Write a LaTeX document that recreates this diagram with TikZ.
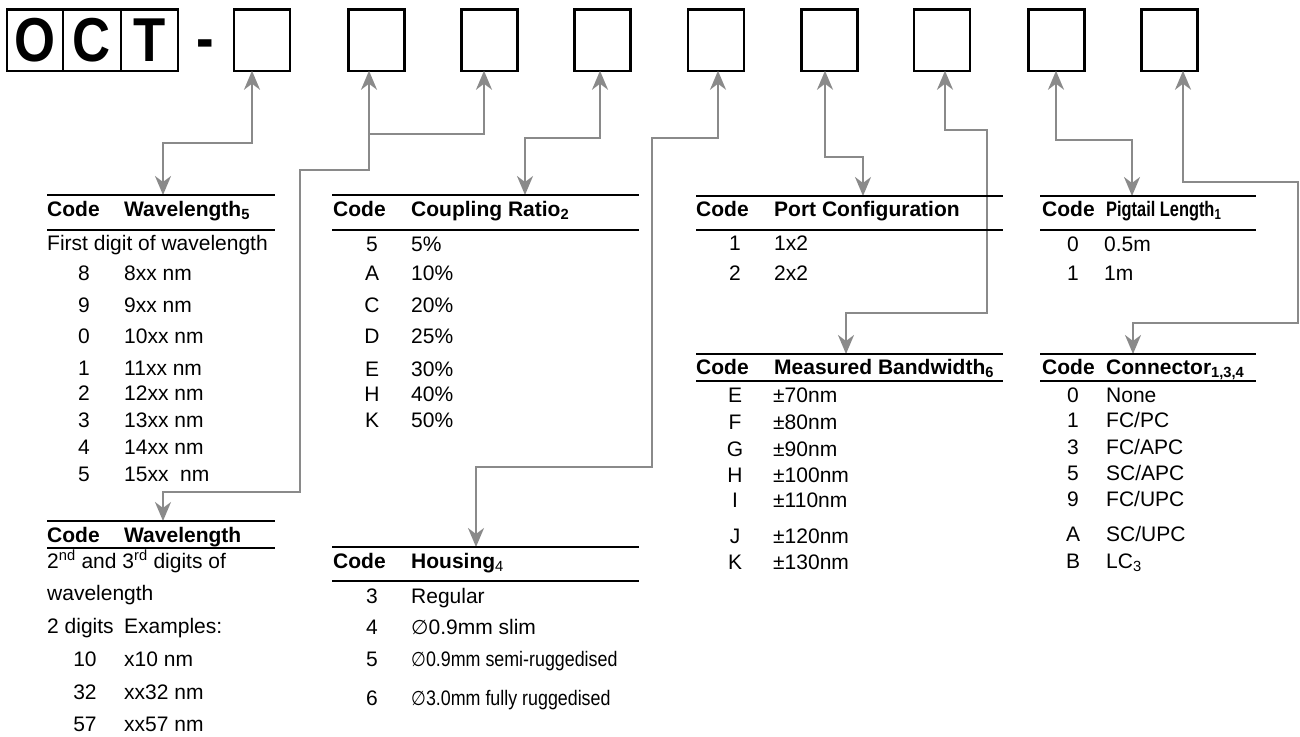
\documentclass[tikz,border=0pt]{standalone}
\usepackage{graphicx}
\usepackage{fontspec}
\setmainfont{Liberation Sans}
\newfontfamily\djv{DejaVu Sans}
\usetikzlibrary{arrows.meta}
\definecolor{conncol}{RGB}{138,138,138}
\tikzset{
  ar/.tip={Stealth[length=19pt,width=16pt,inset=6pt]},
  lbox/.style={draw, line width=2.5pt, minimum height=61.5pt, inner sep=0pt, outer sep=0pt,
     font=\fontsize{62}{64}\selectfont\bfseries},
  cbox/.style={draw, line width=2.5pt, minimum width=56pt, minimum height=61.5pt, inner sep=0pt, outer sep=0pt},
  conn/.style={draw=conncol, line width=2.2pt, line join=miter},
  rule/.style={line width=2.5pt},
  hd/.style={font=\fontsize{21}{24}\selectfont\bfseries, anchor=base west, inner sep=0pt},
  cd/.style={font=\fontsize{21}{24}\selectfont, anchor=base, inner sep=0pt},
  vl/.style={font=\fontsize{21}{24}\selectfont, anchor=base west, inner sep=0pt},
}
\newcommand{\trow}[6]{%
  \node[cd] (#1c) at (#2,#4) {#5};
  \node[vl] (#1v) at (#3,#4) {#6};}
\newcommand{\dia}{{\djv\fontsize{20}{22}\selectfont ∅}}
\begin{document}
\begin{tikzpicture}[x=1pt,y=-1pt]
\useasboundingbox (0,0) rectangle (1300,736);
% ---- top code boxes
\node[lbox, minimum width=56pt] (bo) at (35,40) {\scalebox{0.85}[1]{O}};
\node[lbox, minimum width=58pt] (bc) at (92,40) {\scalebox{0.85}[1]{C}};
\node[lbox, minimum width=57pt] (bt) at (149.5,40) {\scalebox{0.85}[1]{T}};
\node[font=\fontsize{62}{64}\selectfont\bfseries, anchor=base, inner sep=0pt] (dash) at (205,59) {\scalebox{0.85}[1]{-}};
\node[cbox] (b1) at (262,40) {};
\node[cbox] (b2) at (376.5,40) {};
\node[cbox] (b3) at (489.5,40) {};
\node[cbox] (b4) at (602.5,40) {};
\node[cbox] (b5) at (716,40) {};
\node[cbox] (b6) at (829.5,40) {};
\node[cbox] (b7) at (942,40) {};
\node[cbox] (b8) at (1056.5,40) {};
\node[cbox] (b9) at (1169.5,40) {};
% ---- arrow targets on table rules
\coordinate (t1in) at (163,195);
\coordinate (t2in) at (163,521);
\coordinate (t3in) at (525,195);
\coordinate (t4in) at (476,547);
\coordinate (t5in) at (863,196);
\coordinate (t6in) at (846,354);
\coordinate (t7in) at (1132,196);
\coordinate (t8in) at (1133,354);
\coordinate (j23) at (369,134);
% ---- connectors
\draw[conn, ar-ar] ([xshift=-10pt]b1.south) |- (163,143) -- (t1in);
\draw[conn, ar-ar] ([xshift=-7.5pt]b2.south) |- (300,170) |- (163,492) -- (t2in);
\draw[conn, ar-] ([xshift=-5.5pt]b3.south) |- (j23);
\draw[conn, ar-ar] ([xshift=-2.5pt]b4.south) |- (525,138) -- (t3in);
\draw[conn, ar-ar] ([xshift=2pt]b5.south) |- (652,138) |- (476,467) -- (t4in);
\draw[conn, ar-ar] ([xshift=-4.5pt]b6.south) |- (863,157) -- (t5in);
\draw[conn, ar-ar] ([xshift=3pt]b7.south) |- (987,130) |- (846,313) -- (t6in);
\draw[conn, ar-ar] ([xshift=-0.5pt]b8.south) |- (1132,140) -- (t7in);
\draw[conn, ar-ar] ([xshift=13.5pt]b9.south) |- (1298,182) |- (1133,323) -- (t8in);
% ---- rules
\draw[rule] (47,195) -- (275,195);   \draw[rule] (47,230) -- (275,230);
\draw[rule] (47,521) -- (275,521);   \draw[rule] (47,548) -- (275,548);
\draw[rule] (332,195) -- (639,195);  \draw[rule] (332,230) -- (639,230);
\draw[rule] (332,547) -- (639,547);  \draw[rule] (332,581) -- (639,581);
\draw[rule] (696,196) -- (1003,196); \draw[rule] (696,230) -- (1003,230);
\draw[rule] (696,354) -- (1003,354); \draw[rule] (696,381) -- (1003,381);
\draw[rule] (1040,196) -- (1256,196); \draw[rule] (1040,230) -- (1256,230);
\draw[rule] (1040,354) -- (1256,354); \draw[rule] (1040,381) -- (1256,381);
% ---- table 1: wavelength (first digit)
\node[hd] (h1c) at (47,216) {Code};
\node[hd] (h1t) at (124,216) {Wavelength\textsubscript{5}};
\node[vl] (r1a) at (47,250) {First digit of wavelength};
\trow{r1b}{84}{124}{280}{8}{8xx nm}
\trow{r1c}{84}{124}{312}{9}{9xx nm}
\trow{r1d}{84}{124}{343}{0}{10xx nm}
\trow{r1e}{84}{124}{375}{1}{11xx nm}
\trow{r1f}{84}{124}{400}{2}{12xx nm}
\trow{r1g}{84}{124}{427}{3}{13xx nm}
\trow{r1h}{84}{124}{454}{4}{14xx nm}
\trow{r1i}{84}{124}{481}{5}{15xx\ \ nm}
% ---- table 2: wavelength (2nd and 3rd digits)
\node[hd] (h2c) at (47,542) {Code};
\node[hd] (h2t) at (124,542) {Wavelength};
\node[vl] (r2a) at (47,568) {2\textsuperscript{nd} and 3\textsuperscript{rd} digits of};
\node[vl] (r2b) at (47,600) {wavelength};
\node[vl] (r2c) at (47,633) {2 digits};
\node[vl] (r2d) at (124,633) {Examples:};
\trow{r2e}{85}{124}{666}{10}{x10 nm}
\trow{r2f}{85}{124}{699}{32}{xx32 nm}
\trow{r2g}{85}{124}{731}{57}{xx57 nm}
% ---- table 3: coupling ratio
\node[hd] (h3c) at (333,216) {Code};
\node[hd] (h3t) at (411,216) {Coupling Ratio\textsubscript{2}};
\trow{r3a}{372}{411}{251}{5}{5\%}
\trow{r3b}{372}{411}{280}{A}{10\%}
\trow{r3c}{372}{411}{312}{C}{20\%}
\trow{r3d}{372}{411}{343}{D}{25\%}
\trow{r3e}{372}{411}{376}{E}{30\%}
\trow{r3f}{372}{411}{401}{H}{40\%}
\trow{r3g}{372}{411}{427}{K}{50\%}
% ---- table 4: housing
\node[hd] (h4c) at (333,568) {Code};
\node[hd] (h4t) at (411,568) {Housing\textsubscript{\mdseries 4}};
\trow{r4a}{372}{411}{603}{3}{Regular}
\trow{r4b}{372}{411}{634}{4}{\dia0.9mm slim}
\trow{r4c}{372}{411}{666}{5}{\scalebox{0.85}[1]{\dia0.9mm semi-ruggedised}}
\trow{r4d}{372}{411}{705}{6}{\scalebox{0.85}[1]{\dia3.0mm fully ruggedised}}
% ---- table 5: port configuration
\node[hd] (h5c) at (696,216) {Code};
\node[hd] (h5t) at (774,216) {Port Configuration};
\trow{r5a}{735}{774}{250}{1}{1x2}
\trow{r5b}{735}{774}{280}{2}{2x2}
% ---- table 6: measured bandwidth
\node[hd] (h6c) at (696,374) {Code};
\node[hd] (h6t) at (774,374) {Measured Bandwidth\textsubscript{6}};
\trow{r6a}{735}{773}{402}{E}{±70nm}
\trow{r6b}{735}{773}{429}{F}{±80nm}
\trow{r6c}{735}{773}{456}{G}{±90nm}
\trow{r6d}{735}{773}{482}{H}{±100nm}
\trow{r6e}{735}{773}{507}{I}{±110nm}
\trow{r6f}{735}{773}{543}{J}{±120nm}
\trow{r6g}{735}{773}{569}{K}{±130nm}
% ---- table 7: pigtail length
\node[hd] (h7c) at (1042,216) {Code};
\node[hd] (h7t) at (1106,216) {\scalebox{0.78}[1]{Pigtail Length\textsubscript{1}}};
\trow{r7a}{1073}{1104}{251}{0}{0.5m}
\trow{r7b}{1073}{1104}{280}{1}{1m}
% ---- table 8: connector
\node[hd] (h8c) at (1042,374) {Code};
\node[hd] (h8t) at (1106,374) {Connector\textsubscript{1,3,4}};
\trow{r8a}{1073}{1106}{402}{0}{None}
\trow{r8b}{1073}{1106}{427}{1}{FC/PC}
\trow{r8c}{1073}{1106}{454}{3}{FC/APC}
\trow{r8d}{1073}{1106}{480}{5}{SC/APC}
\trow{r8e}{1073}{1106}{506}{9}{FC/UPC}
\trow{r8f}{1073}{1106}{541}{A}{SC/UPC}
\trow{r8g}{1073}{1106}{568}{B}{LC\textsubscript{3}}
\end{tikzpicture}
\end{document}
